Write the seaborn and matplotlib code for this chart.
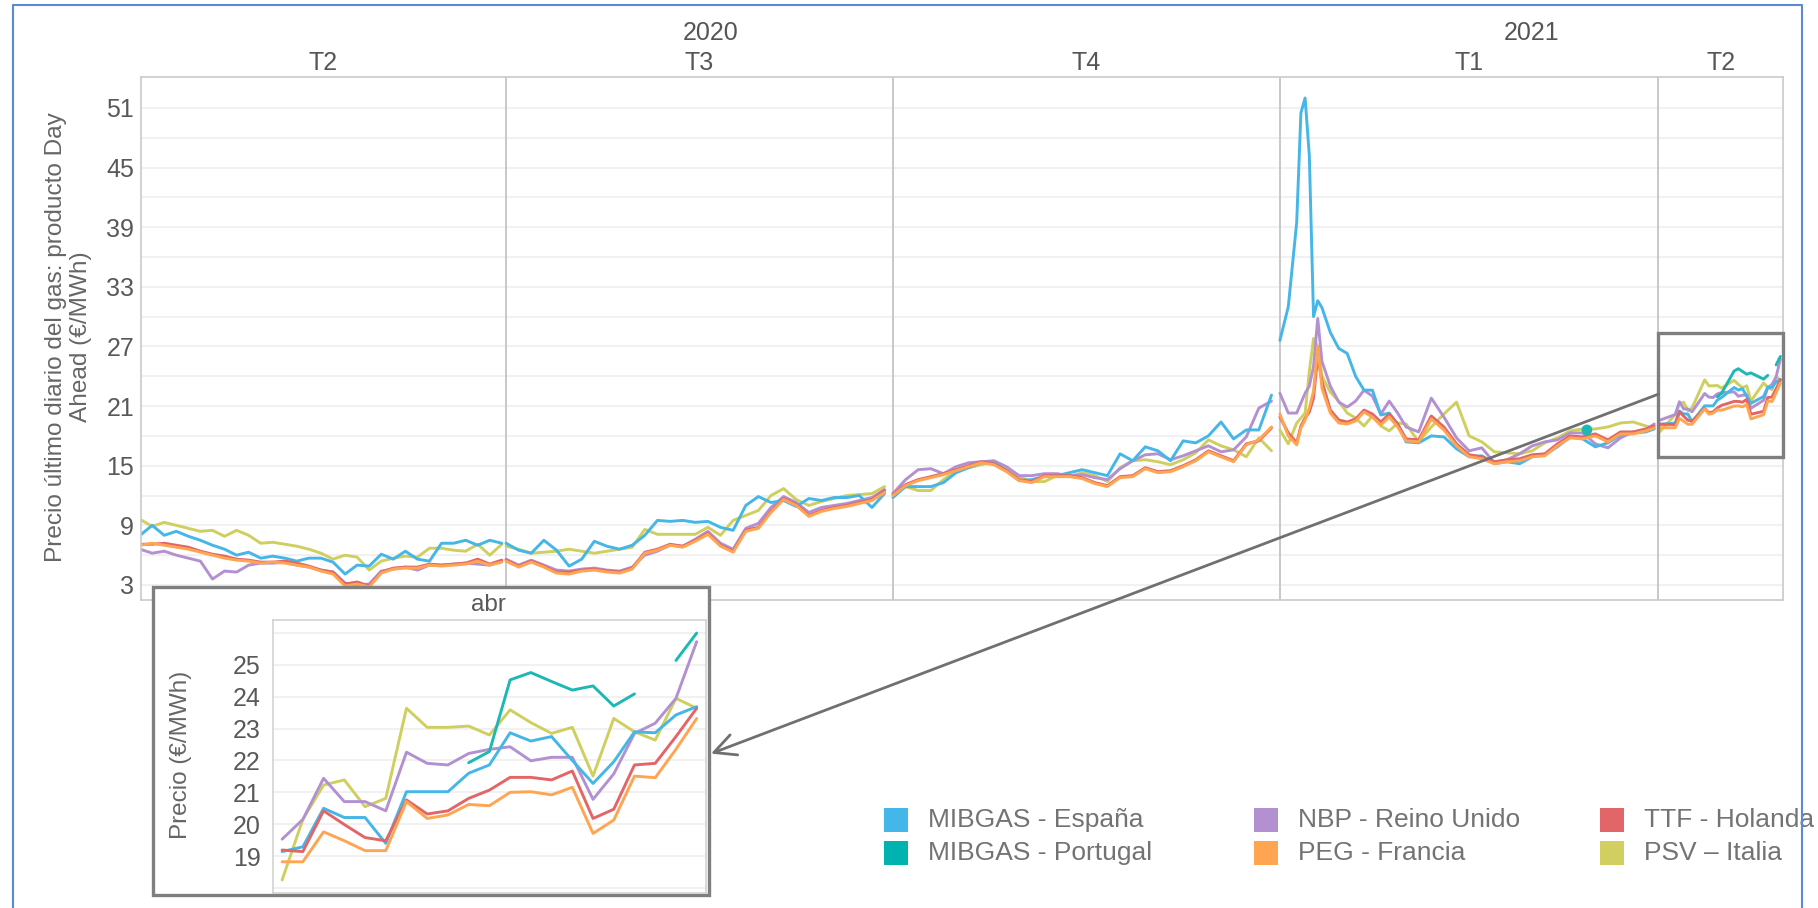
import numpy as np
import pandas as pd
import matplotlib
matplotlib.use('Agg')
import matplotlib.pyplot as plt
import matplotlib.dates as mdates
import matplotlib.transforms as mtrans
from matplotlib.patches import Rectangle, ConnectionPatch
from matplotlib.lines import Line2D
import seaborn as sns

# ---------------- data ----------------
ES, PT, NBP, PEG, TTF, PSV = ('MIBGAS - España', 'MIBGAS - Portugal', 'NBP - Reino Unido',
                              'PEG - Francia', 'TTF - Holanda', 'PSV – Italia')
legend_order = [ES, PT, NBP, PEG, TTF, PSV]
draw_order = [PSV, NBP, ES, TTF, PEG, PT]
palette = {ES: '#45b6e8', PT: '#1db8b3', NBP: '#b391d1', PEG: '#ffa552', TTF: '#e26667', PSV: '#cfcf5f'}
legend_colors = {ES: '#45b6e8', PT: '#00b2b0', NBP: '#b391d1', PEG: '#ffa552', TTF: '#e26667', PSV: '#d0cf60'}

x_start, x_end = '2020-04-05 05:00', '2021-04-30 15:00'
quarter_starts = ['2020-07-01', '2020-10-01', '2021-01-01', '2021-04-01']
quarter_labels = ['T2', 'T3', 'T4', 'T1', 'T2']
year_labels = ['2020', '2021']
year_start_2021 = '2021-01-01'

# T2 2020
dates_q2_2020 = pd.date_range('2020-04-05', '2020-06-30', periods=31)
es_q2_2020 = [8.0, 9.0, 8.0, 8.4, 7.9, 7.5, 7.0, 6.6, 6.0, 6.3, 5.7, 5.9, 5.7, 5.4, 5.7, 5.7,
              5.3, 4.1, 5.0, 4.9, 6.1, 5.6, 6.4, 5.6, 5.4, 7.2, 7.2, 7.5, 7.0, 7.5, 7.2]
nbp_q2_2020 = [6.6, 6.2, 6.4, 6.0, 5.7, 5.4, 3.6, 4.4, 4.3, 5.0, 5.2, 5.2, 5.3, 5.0, 4.8, 4.5,
               4.3, 3.2, 3.0, 3.1, 4.4, 4.6, 4.8, 4.5, 5.0, 5.0, 5.1, 5.2, 5.1, 5.0, 5.4]
ttf_q2_2020 = [7.1, 7.1, 7.2, 7.0, 6.8, 6.4, 6.1, 5.9, 5.6, 5.5, 5.3, 5.3, 5.4, 5.2, 4.9, 4.5,
               4.3, 3.1, 3.3, 2.9, 4.3, 4.7, 4.8, 4.8, 5.1, 5.0, 5.1, 5.2, 5.6, 5.1, 5.5]
peg_q2_2020 = [7.0, 7.2, 7.0, 6.8, 6.6, 6.3, 6.0, 5.7, 5.5, 5.4, 5.2, 5.3, 5.2, 5.0, 4.8, 4.4,
               4.1, 2.9, 3.1, 2.8, 4.2, 4.6, 4.7, 4.7, 5.0, 4.9, 5.0, 5.1, 5.4, 5.0, 5.3]
psv_q2_2020 = [9.6, 8.9, 9.3, 9.0, 8.7, 8.4, 8.5, 7.9, 8.5, 8.0, 7.2, 7.3, 7.1, 6.9, 6.6, 6.2,
               5.6, 6.0, 5.8, 4.5, 5.4, 5.7, 5.9, 5.8, 6.7, 6.7, 6.5, 6.4, 7.1, 6.0, 7.1]

# T3 2020
dates_q3_2020 = pd.date_range('2020-07-01', periods=31, freq='3D')
es_q3_2020 = [7.2, 6.5, 6.2, 7.5, 6.5, 4.9, 5.6, 7.4, 6.9, 6.6, 7.0, 8.0, 9.5, 9.4, 9.5, 9.3,
              9.4, 8.8, 8.5, 11.0, 11.9, 11.3, 11.5, 10.9, 11.7, 11.5, 11.8, 11.8, 12.0, 10.8, 12.2]
nbp_q3_2020 = [5.6, 5.0, 5.5, 5.0, 4.5, 4.4, 4.6, 4.7, 4.5, 4.4, 4.8, 6.0, 6.4, 7.0, 6.9, 7.6,
               8.4, 7.2, 6.6, 8.7, 9.2, 10.8, 11.9, 11.3, 10.3, 10.8, 11.0, 11.2, 11.5, 11.8, 12.6]
ttf_q3_2020 = [5.5, 4.9, 5.4, 4.9, 4.3, 4.3, 4.5, 4.6, 4.4, 4.3, 4.7, 6.3, 6.6, 7.1, 6.9, 7.5,
               8.2, 7.0, 6.4, 8.5, 8.8, 10.4, 11.7, 11.1, 10.0, 10.5, 10.8, 11.0, 11.3, 11.6, 12.5]
peg_q3_2020 = [5.4, 4.8, 5.3, 4.8, 4.2, 4.1, 4.4, 4.5, 4.3, 4.2, 4.6, 6.2, 6.5, 7.0, 6.8, 7.4,
               8.1, 6.9, 6.3, 8.4, 8.7, 10.3, 11.6, 11.0, 9.9, 10.4, 10.7, 10.9, 11.2, 11.5, 12.3]
psv_q3_2020 = [6.9, 6.6, 6.2, 6.3, 6.4, 6.6, 6.4, 6.2, 6.4, 6.6, 6.8, 8.6, 8.1, 8.1, 8.1, 8.1,
               8.8, 8.0, 9.5, 10.0, 10.5, 12.0, 12.7, 11.6, 11.0, 11.4, 11.7, 12.0, 12.1, 12.2, 12.9]

# T4 2020
dates_q4_2020 = pd.date_range('2020-10-01', periods=31, freq='3D')
es_q4_2020 = [11.8, 12.9, 12.9, 12.9, 13.3, 14.3, 14.8, 15.3, 15.3, 14.5, 13.5, 13.6, 13.9, 14.0,
              14.3, 14.6, 14.3, 14.0, 16.2, 15.5, 16.9, 16.5, 15.5, 17.5, 17.3, 18.0, 19.4, 17.7,
              18.6, 18.6, 22.1]
nbp_q4_2020 = [12.2, 13.6, 14.6, 14.7, 14.2, 14.9, 15.3, 15.4, 15.5, 14.9, 14.0, 14.0, 14.2, 14.2,
               14.0, 14.1, 13.8, 13.6, 14.7, 15.5, 16.1, 16.2, 15.6, 16.0, 16.5, 17.0, 16.4, 16.6,
               17.9, 20.8, 21.5]
ttf_q4_2020 = [12.1, 13.1, 13.6, 13.9, 14.2, 14.6, 15.0, 15.4, 15.2, 14.5, 13.6, 13.4, 14.0, 14.0,
               14.0, 13.8, 13.3, 13.0, 13.9, 14.0, 14.8, 14.4, 14.5, 15.0, 15.6, 16.5, 16.0, 15.5,
               17.2, 17.5, 18.8]
peg_q4_2020 = [12.0, 13.0, 13.5, 13.8, 14.1, 14.5, 14.9, 15.3, 15.1, 14.4, 13.5, 13.3, 13.9, 13.9,
               13.9, 13.7, 13.2, 12.9, 13.8, 13.9, 14.7, 14.3, 14.4, 14.9, 15.5, 16.4, 15.9, 15.4,
               17.1, 17.6, 18.9]
psv_q4_2020 = [12.3, 12.9, 12.5, 12.5, 13.6, 14.5, 14.8, 15.1, 15.4, 14.8, 13.9, 13.4, 13.4, 14.0,
               13.9, 14.3, 14.0, 13.4, 14.8, 15.5, 15.6, 15.4, 15.1, 15.6, 16.3, 17.6, 17.0, 16.6,
               15.9, 17.8, 16.5]

# T1 2021
dates_q1_2021 = ['2021-01-01', '2021-01-03', '2021-01-05', '2021-01-06', '2021-01-07', '2021-01-08',
                 '2021-01-09', '2021-01-10', '2021-01-11', '2021-01-13', '2021-01-15', '2021-01-17',
                 '2021-01-19', '2021-01-21', '2021-01-23', '2021-01-25', '2021-01-27', '2021-01-29',
                 '2021-01-31', '2021-02-03', '2021-02-06', '2021-02-09', '2021-02-12', '2021-02-15',
                 '2021-02-18', '2021-02-21', '2021-02-24', '2021-02-27', '2021-03-02', '2021-03-05',
                 '2021-03-08', '2021-03-11', '2021-03-14', '2021-03-17', '2021-03-20', '2021-03-23',
                 '2021-03-26', '2021-03-29', '2021-03-31']
es_q1_2021 = [27.6, 31.0, 39.5, 50.5, 52.0, 46.2, 30.0, 31.6, 30.9, 28.4, 26.8, 26.3, 24.0, 22.6,
              22.6, 20.1, 20.3, 19.2, 17.4, 17.3, 18.0, 17.9, 16.7, 15.9, 16.0, 15.2, 15.4, 15.2,
              15.9, 16.1, 16.9, 17.9, 17.7, 16.9, 17.3, 18.1, 18.3, 18.4, 18.7]
nbp_q1_2021 = [22.3, 20.3, 20.3, 21.3, 22.3, 23.0, 25.0, 29.8, 25.5, 23.0, 21.4, 20.9, 21.5, 22.6,
               22.0, 20.2, 21.5, 20.3, 18.9, 18.4, 21.8, 19.9, 17.8, 16.5, 16.8, 15.3, 15.6, 16.2,
               17.0, 17.4, 17.6, 18.3, 18.3, 17.2, 16.8, 17.8, 18.4, 18.6, 19.2]
ttf_q1_2021 = [19.9, 18.3, 17.3, 19.0, 19.8, 20.4, 21.8, 26.0, 23.5, 20.6, 19.6, 19.4, 19.7, 20.6,
               20.2, 19.4, 20.2, 19.2, 17.7, 17.6, 20.0, 18.9, 17.2, 16.1, 15.9, 15.4, 15.6, 15.7,
               16.1, 16.2, 17.2, 18.0, 17.9, 18.2, 17.6, 18.4, 18.4, 18.7, 19.0]
peg_q1_2021 = [20.2, 18.0, 17.1, 18.8, 19.6, 20.8, 22.5, 27.0, 22.8, 20.3, 19.3, 19.2, 19.5, 20.4,
               19.9, 19.1, 19.9, 18.9, 17.5, 17.4, 19.7, 18.6, 17.0, 15.9, 15.7, 15.2, 15.4, 15.5,
               15.9, 16.0, 17.0, 17.8, 17.7, 18.0, 17.4, 18.2, 18.2, 18.5, 18.8]
psv_q1_2021 = [18.6, 17.2, 19.3, 19.8, 20.3, 24.5, 27.8, 27.0, 24.0, 22.4, 21.5, 20.3, 19.8, 19.0,
               20.0, 19.0, 18.5, 19.3, 19.2, 17.4, 18.9, 20.2, 21.4, 18.0, 17.4, 16.4, 16.3, 16.2,
               16.5, 17.3, 17.8, 18.5, 18.7, 18.7, 18.9, 19.3, 19.4, 19.0, 18.8]
pt_q1_2021_dates = ['2021-03-15']
pt_q1_2021_values = [18.6]

# T2 2021 (abril)
dates_apr_2021 = ['2021-04-01', '2021-04-05', '2021-04-06', '2021-04-07', '2021-04-08', '2021-04-09',
                  '2021-04-12', '2021-04-13', '2021-04-14', '2021-04-15', '2021-04-16', '2021-04-19',
                  '2021-04-20', '2021-04-21', '2021-04-22', '2021-04-23', '2021-04-26', '2021-04-27',
                  '2021-04-28', '2021-04-29', '2021-04-30']
es_apr_2021 = [19.14, 19.29, 20.50, 20.21, 20.21, 19.40, 21.02, 21.02, 21.02, 21.60, 21.86, 22.87,
               22.61, 22.75, 22.00, 21.28, 21.96, 22.90, 22.87, 23.43, 23.69]
pt_apr_2021 = [np.nan] * 9 + [21.93, 22.28, 24.53, 24.76, 24.48, 24.21, 24.34, 23.71, 24.09,
                              np.nan, 25.14, 26.00]
nbp_apr_2021 = [19.53, 20.15, 21.44, 20.71, 20.71, 20.42, 22.26, 21.91, 21.86, 22.22, 22.35, 22.43,
                21.99, 22.10, 22.10, 20.78, 21.58, 22.85, 23.17, 23.95, 25.73]
ttf_apr_2021 = [19.19, 19.14, 20.42, 19.99, 19.58, 19.48, 20.76, 20.32, 20.42, 20.81, 21.07, 21.47,
                21.47, 21.39, 21.67, 20.18, 20.47, 21.86, 21.91, 22.75, 23.64]
peg_apr_2021 = [18.82, 18.82, 19.76, 19.48, 19.17, 19.17, 20.71, 20.18, 20.29, 20.62, 20.58, 21.00,
                21.02, 20.92, 21.16, 19.71, 20.13, 21.51, 21.46, 22.35, 23.32]
psv_apr_2021 = [18.25, 20.15, 21.23, 21.39, 20.55, 20.81, 23.64, 23.04, 23.04, 23.08, 22.80, 23.59,
                23.19, 22.85, 23.04, 21.51, 23.32, 22.90, 22.64, 23.95, 23.64]
inset_title = 'abr'
inset_yticks = [19, 20, 21, 22, 23, 24, 25]

main_blocks = [
    ('q2_2020', dates_q2_2020, {ES: es_q2_2020, NBP: nbp_q2_2020, TTF: ttf_q2_2020,
                                PEG: peg_q2_2020, PSV: psv_q2_2020}),
    ('q3_2020', dates_q3_2020, {ES: es_q3_2020, NBP: nbp_q3_2020, TTF: ttf_q3_2020,
                                PEG: peg_q3_2020, PSV: psv_q3_2020}),
    ('q4_2020', dates_q4_2020, {ES: es_q4_2020, NBP: nbp_q4_2020, TTF: ttf_q4_2020,
                                PEG: peg_q4_2020, PSV: psv_q4_2020}),
    ('q1_2021', dates_q1_2021, {ES: es_q1_2021, NBP: nbp_q1_2021, TTF: ttf_q1_2021,
                                PEG: peg_q1_2021, PSV: psv_q1_2021}),
    ('q2_2021', dates_apr_2021, {ES: es_apr_2021, PT: pt_apr_2021, NBP: nbp_apr_2021,
                                 TTF: ttf_apr_2021, PEG: peg_apr_2021, PSV: psv_apr_2021}),
]


def build(blocks, use_index=False):
    rows = []
    for label, dates, data in blocks:
        for name, vals in data.items():
            s = pd.Series(vals, dtype=float)
            run = s.isna().cumsum()
            for i, (d, v, r) in enumerate(zip(dates, s, run)):
                if not np.isnan(v):
                    xval = i if use_index else pd.Timestamp(d)
                    rows.append((xval, v, name, f'{label}|{name}|{r}'))
    return pd.DataFrame(rows, columns=['x', 'value', 'series', 'seg'])


df_main = build(main_blocks)
df_inset = build([main_blocks[-1]], use_index=True)

# ---------------- figure ----------------
sns.set_theme(style='white')
plt.rcParams['font.family'] = ['Liberation Sans', 'DejaVu Sans']

W, H = 1818, 908
fig = plt.figure(figsize=(W / 100, H / 100), dpi=100)
fig.patch.set_facecolor('white')


def fx(px):
    return px / W


def fy(py):
    return 1 - py / H


ax = fig.add_axes([fx(141), fy(600), fx(1783) - fx(141), fy(76.5) - fy(600)])
ax.set_axisbelow(True)
sns.lineplot(data=df_main, x='x', y='value', hue='series', hue_order=draw_order,
             palette=palette, units='seg', estimator=None, lw=2.1, legend=False, ax=ax)
sns.scatterplot(x=pd.to_datetime(pt_q1_2021_dates), y=pt_q1_2021_values, color=palette[PT],
                s=60, edgecolor='none', ax=ax, legend=False, zorder=5)

x0, x1 = pd.Timestamp(x_start), pd.Timestamp(x_end)
ax.set_xlim(x0, x1)
ax.set_ylim(1.49, 54.16)
ax.set_yticks(range(3, 52, 6))
ax.set_yticks(range(6, 52, 6), minor=True)
ax.grid(axis='y', which='both', color='#eeeeee', lw=1.1)
ax.grid(axis='x', visible=False)
ax.set_xticks([])
ax.set_xlabel('')
ax.set_ylabel('')
ax.tick_params(axis='y', which='both', length=0, pad=5, labelsize=18, labelcolor='#595959')
for sp in ax.spines.values():
    sp.set_color('#c9c9c9')
    sp.set_linewidth(1.2)
for d in quarter_starts:
    ax.axvline(pd.Timestamp(d), color='#c4c4c4', lw=1.3, zorder=1)

# header
tr = mtrans.blended_transform_factory(ax.transData, ax.transAxes)
edges = [mdates.date2num(x0)] + [mdates.date2num(pd.Timestamp(d)) for d in quarter_starts] + [mdates.date2num(x1)]
for lab, a, b in zip(quarter_labels, edges[:-1], edges[1:]):
    ax.text((a + b) / 2, 1.0250, lab, transform=tr, ha='center', va='center', fontsize=18, color='#555555')
yedges = [mdates.date2num(x0), mdates.date2num(pd.Timestamp(year_start_2021)), mdates.date2num(x1)]
for lab, a, b in zip(year_labels, yedges[:-1], yedges[1:]):
    ax.text((a + b) / 2, 1.0823, lab, transform=tr, ha='center', va='center', fontsize=18, color='#555555')

fig.text(fx(68.5), fy(337), 'Precio último diario del gas: producto Day\nAhead (€/MWh)', rotation=90,
         ha='center', va='center', multialignment='center', fontsize=17.6, color='#666666')

# highlight rectangle
apr1 = mdates.date2num(pd.Timestamp(quarter_starts[-1]))
ax.add_patch(Rectangle((apr1, 15.88), mdates.date2num(x1) - apr1, 28.35 - 15.88, fill=False,
                       ec='#7f7f7f', lw=2.4, zorder=6, clip_on=False))

# inset box
fig.add_artist(Rectangle((fx(153), fy(895)), fx(709) - fx(153), fy(586.7) - fy(895),
                         transform=fig.transFigure, facecolor='white', edgecolor='#7f7f7f',
                         lw=2.4, zorder=2))
iax = fig.add_axes([fx(273), fy(892.7), fx(706) - fx(273), fy(620) - fy(892.7)])
iax.set_zorder(3)
iax.set_axisbelow(True)
sns.lineplot(data=df_inset, x='x', y='value', hue='series', hue_order=draw_order,
             palette=palette, units='seg', estimator=None, lw=2.1, legend=False, ax=iax)
iax.set_xlim(-0.44, len(dates_apr_2021) - 1 + 0.45)
iax.set_ylim(17.85, 26.41)
iax.set_yticks(inset_yticks)
iax.set_yticks([18, 26], minor=True)
iax.grid(axis='y', which='both', color='#eeeeee', lw=1.1)
iax.grid(axis='x', visible=False)
iax.set_xticks([])
iax.set_xlabel('')
iax.set_ylabel('')
iax.tick_params(axis='y', which='both', length=0, pad=9, labelsize=18, labelcolor='#595959')
for sp in iax.spines.values():
    sp.set_color('#cfcfcf')
    sp.set_linewidth(1.1)
fig.text(fx(488), fy(605), inset_title, ha='center', va='center', fontsize=17.5, color='#595959', zorder=4)
fig.text(fx(181), fy(755), 'Precio (€/MWh)', rotation=90, ha='center', va='center', fontsize=17.5,
         color='#666666', zorder=4)

# connector arrow
con = ConnectionPatch(xyA=(apr1, 22.2), coordsA=ax.transData, xyB=(fx(711), fy(753.6)),
                      coordsB=fig.transFigure, arrowstyle='->,head_length=0.7,head_width=0.35',
                      mutation_scale=22, color='#707070', lw=2.0, zorder=5)
fig.add_artist(con)

# legend
col_x = [884, 1254, 1600]
row_y = [820, 853]
for i, name in enumerate(legend_order):
    cx = col_x[i // 2]
    cy = row_y[i % 2]
    fig.add_artist(Rectangle((fx(cx), fy(cy + 12)), 24 / W, 24 / H, transform=fig.transFigure,
                             facecolor=legend_colors[name], edgecolor='none', zorder=4))
    fig.text(fx(cx + 44), fy(cy), name, ha='left', va='center', fontsize=19, color='#737373', zorder=4)

# outer border
fig.add_artist(Line2D([fx(13), fx(13), fx(1802), fx(1802)], [0, fy(5), fy(5), 0],
                      transform=fig.transFigure, color='#5a8ad0', lw=1.5, zorder=6))

fig.savefig('out.png', dpi=100)
